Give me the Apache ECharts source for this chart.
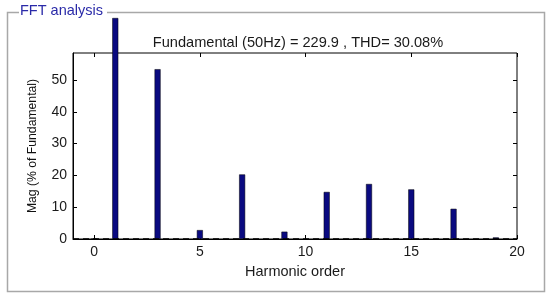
<!DOCTYPE html>
<html>
<head>
<meta charset="UTF-8">
<title>FFT analysis</title>
<script src="https://cdn.jsdelivr.net/npm/echarts@6/dist/echarts.min.js"></script>
<style>
  html, body { margin: 0; padding: 0; background: #fff; }
  #main { width: 550px; height: 298px; }
</style>
</head>
<body>
<div id="main"></div>
<script type="text/javascript">
// harmonic order and magnitude (% of fundamental)
// the fundamental bar runs off the top of the axes, so its visible height is kept
var harmonics = [0, 1, 3, 5, 7, 9, 11, 13, 15, 17, 19];
var magnitudes = [0, 69.5, 53.4, 2.8, 20.3, 2.3, 14.8, 17.3, 15.6, 9.5, 0.5];
var xTicks = [0, 5, 10, 15, 20];
var yTicks = [0, 10, 20, 30, 40, 50];
var titleText = 'Fundamental (50Hz) = 229.9 , THD= 30.08%';

var barData = harmonics.map(function (h, i) { return [h, magnitudes[i]]; });

var font = 'Liberation Sans, Arial, sans-serif';
var myChart = echarts.init(document.getElementById('main'));

myChart.setOption({
    animation: false,
    backgroundColor: '#fff',
    title: {
        text: titleText,
        left: 293, top: 30, textAlign: 'center',
        textStyle: {fontFamily: font, fontSize: 14.6, fontWeight: 'normal', color: '#1a1a1a'}
    },
    grid: {
        left: 73, right: 33, top: 53, bottom: 59,
        show: true, borderColor: '#000', borderWidth: 1, backgroundColor: 'transparent'
    },
    xAxis: [{
        type: 'value', min: -1, max: 20,
        name: 'Harmonic order', nameLocation: 'middle', nameGap: 25,
        nameTextStyle: {fontFamily: font, fontSize: 14.5, color: '#1a1a1a'},
        axisLine: {show: true, onZero: false, lineStyle: {color: '#000'}},
        axisTick: {show: true, inside: true, length: 4, customValues: xTicks, lineStyle: {color: '#000'}},
        axisLabel: {customValues: xTicks, margin: 6, fontFamily: font, fontSize: 14, color: '#1a1a1a'},
        splitLine: {show: false}
    }, {
        type: 'value', min: -1, max: 20, position: 'top',
        axisLine: {show: false, onZero: false},
        axisTick: {show: true, inside: true, length: 4, customValues: xTicks, lineStyle: {color: '#000'}},
        axisLabel: {show: false},
        splitLine: {show: false}
    }],
    yAxis: [{
        type: 'value', min: 0, max: 58.5,
        name: 'Mag (% of Fundamental)', nameLocation: 'middle', nameGap: 34,
        nameTextStyle: {fontFamily: font, fontSize: 12.2, color: '#111'},
        axisLine: {show: true, onZero: false, lineStyle: {color: '#000'}},
        axisTick: {show: true, inside: true, length: 4, customValues: yTicks, lineStyle: {color: '#000'}},
        axisLabel: {customValues: yTicks, margin: 6, fontFamily: font, fontSize: 14, color: '#1a1a1a'},
        splitLine: {show: false}
    }, {
        type: 'value', min: 0, max: 58.5, position: 'right',
        axisLine: {show: false, onZero: false},
        axisTick: {show: true, inside: true, length: 4, customValues: yTicks, lineStyle: {color: '#000'}},
        axisLabel: {show: false},
        splitLine: {show: false}
    }],
    series: [{
        name: 'Mag',
        type: 'bar',
        clip: false,
        barWidth: 6,
        data: barData,
        itemStyle: {color: '#0a0a80', borderColor: '#000', borderWidth: 0.5},
        markLine: {
            silent: true, symbol: 'none', label: {show: false},
            lineStyle: {color: '#000', type: [6, 4], width: 1.5},
            data: [{yAxis: 0}]
        }
    }],
    graphic: [{
        type: 'polyline',
        shape: {points: [[19, 12.5], [7.5, 12.5], [7.5, 291.5], [544.5, 291.5], [544.5, 12.5], [107, 12.5]]},
        style: {fill: null, stroke: '#a8a8a8', lineWidth: 1.5}
    }, {
        type: 'text', left: 20, top: 3,
        style: {text: 'FFT analysis', fontFamily: font, fontSize: 14.5, fill: '#2a2aa8'}
    }]
});
</script>
</body>
</html>
